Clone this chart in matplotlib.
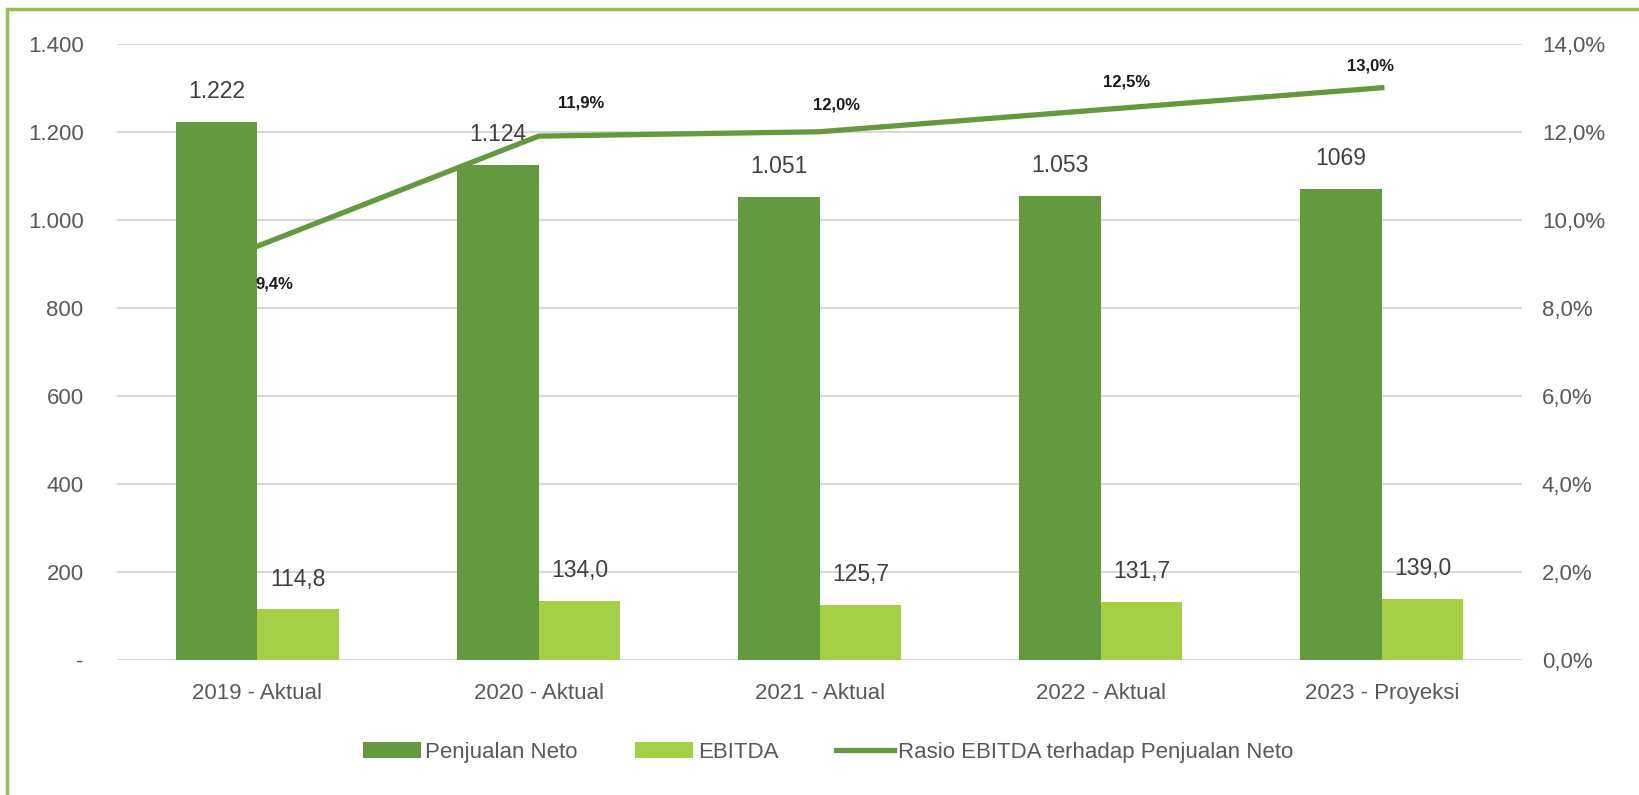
import matplotlib
matplotlib.use('Agg')
import matplotlib.pyplot as plt
import numpy as np
from matplotlib.patches import Rectangle

plt.rcParams['font.family'] = ['Liberation Sans', 'DejaVu Sans']

categories = ['2019 - Aktual', '2020 - Aktual', '2021 - Aktual', '2022 - Aktual', '2023 - Proyeksi']
penjualan = [1222, 1124, 1051, 1053, 1069]
penjualan_lbl = ['1.222', '1.124', '1.051', '1.053', '1069']
ebitda = [114.8, 134.0, 125.7, 131.7, 139.0]
ebitda_lbl = ['114,8', '134,0', '125,7', '131,7', '139,0']
rasio = [9.4, 11.9, 12.0, 12.5, 13.0]
rasio_lbl = ['9,4%', '11,9%', '12,0%', '12,5%', '13,0%']
left_ticks = [0, 200, 400, 600, 800, 1000, 1200, 1400]
left_tick_lbl = ['-', '200', '400', '600', '800', '1.000', '1.200', '1.400']
right_ticks = [0, 2, 4, 6, 8, 10, 12, 14]
right_tick_lbl = ['0,0%', '2,0%', '4,0%', '6,0%', '8,0%', '10,0%', '12,0%', '14,0%']

dark = '#639A3F'
light = '#A5CF45'
txt = '#595959'

fig = plt.figure(figsize=(16.4, 7.95), dpi=100)
ax = fig.add_axes([0.0713, 0.170, 0.857, 0.775])
ax2 = ax.twinx()

x = np.arange(len(categories))
w = 0.29
b1 = ax.bar(x - w/2, penjualan, w, color=dark, label='Penjualan Neto', zorder=2)
b2 = ax.bar(x + w/2, ebitda, w, color=light, label='EBITDA', zorder=2)
for xi, v, s in zip(x, penjualan, penjualan_lbl):
    ax.text(xi - w/2, v + 70, s, ha='center', va='center', fontsize=16.5, color='#404040', zorder=3)
for xi, v, s in zip(x, ebitda, ebitda_lbl):
    ax.text(xi + w/2, v + 68, s, ha='center', va='center', fontsize=16.5, color='#404040', zorder=3)

ax.set_xlim(-0.5, len(categories) - 0.5)
ax.set_ylim(0, 1400)
ax.set_yticks(left_ticks)
ax.set_yticklabels(left_tick_lbl)
ax.set_xticks(x)
ax.set_xticklabels(categories)
ax.grid(axis='y', color='#D9D9D9', lw=1.5, zorder=0)
ax.set_axisbelow(True)
ax.tick_params(length=0, labelsize=16, colors=txt)
ax.tick_params(axis='x', pad=17)
ax.tick_params(axis='y', pad=24)
for sp in ax.spines.values():
    sp.set_visible(False)

ln, = ax2.plot(x, rasio, color=dark, lw=3.8, label='Rasio EBITDA terhadap Penjualan Neto', zorder=4)
ax2.set_ylim(0, 14)
ax2.set_yticks(right_ticks)
ax2.set_yticklabels(right_tick_lbl)
ax2.tick_params(length=0, labelsize=16, colors=txt, pad=14)
for sp in ax2.spines.values():
    sp.set_visible(False)

offs = [(0.06, -0.85), (0.15, 0.75), (0.06, 0.6), (0.09, 0.62), (-0.04, 0.5)]
for xi, v, s, (dx, dy) in zip(x, rasio, rasio_lbl, offs):
    ax2.text(xi + dx, v + dy, s, ha='center', va='center', fontsize=12,
             fontweight='bold', color='#1a1a1a', zorder=5)

fig.legend(handles=[b1, b2, ln], loc='center', bbox_to_anchor=(0.505, 0.054), ncol=3,
           frameon=False, fontsize=16, labelcolor=txt, handlelength=2.6, handletextpad=0.2,
           columnspacing=2.6)

fig.patches.append(Rectangle((0.0045, -0.05), 1.1, 1.039, transform=fig.transFigure,
                             fill=False, edgecolor='#9BBB59', lw=2.5))

fig.savefig('out.png', dpi=100)
